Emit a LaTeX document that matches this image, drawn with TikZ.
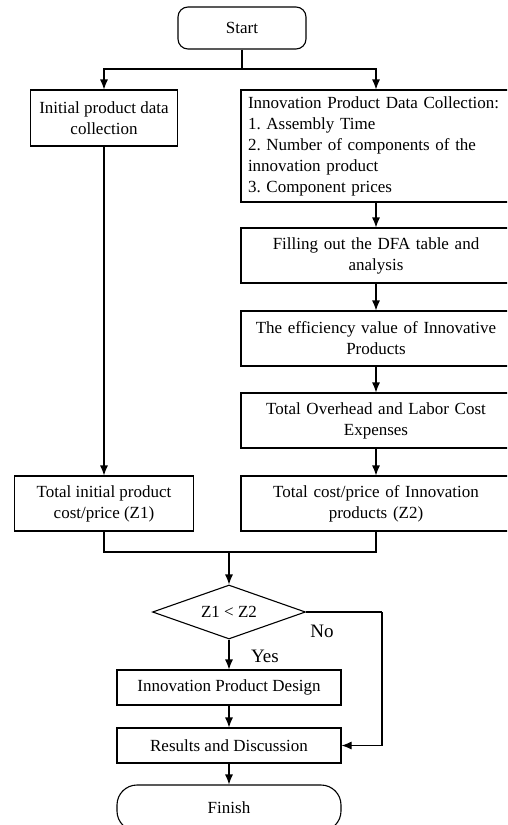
\documentclass[tikz,border=0pt]{standalone}
\usepackage{fontspec}
\setmainfont{Liberation Serif}
\usetikzlibrary{shapes.geometric,arrows.meta}
\frenchspacing
\tikzset{
  base/.style={draw, line width=1.1pt, font=\fontsize{17}{21}\selectfont, inner sep=6pt, align=center},
  procbox/.style={base, rectangle, minimum height=55pt},
  rbox/.style={procbox, minimum width=270pt, text width=256pt},
  termbox/.style={base, rectangle, rounded corners=#1},
  decbox/.style={base, diamond, aspect=2.83, minimum width=153pt, minimum height=54pt, inner sep=1pt},
  arr/.style={line width=1.1pt, -{Latex[length=10pt,width=8pt]}},
  ln/.style={line width=1.1pt},
  lbl/.style={font=\fontsize{19}{21}\selectfont, inner sep=0pt}
}
\begin{document}
\frenchspacing
\begin{tikzpicture}[x=1pt,y=-1pt]
\path[use as bounding box, clip] (0,0) rectangle (507,825);
% nodes
\node[termbox=10pt, minimum width=128pt, minimum height=42pt] (start) at (242,28) {Start};
\node[procbox, minimum width=147pt, minimum height=56pt] (init) at (104,118) {Initial product data\\collection};
\node[base, rectangle, minimum width=270pt, text width=256pt, minimum height=112pt, align=left] (innov) at (376,146)
  {Innovation Product Data Collection:\\1. Assembly Time\\2. Number of components of the\\innovation product\\3. Component prices};
\node[rbox] (fill) at (376,255.5) {Filling out the DFA table and\\analysis};
\node[rbox] (eff) at (376,338.5) {The efficiency value of Innovative\\Products};
\node[rbox] (over) at (376,420.5) {Total Overhead and Labor Cost\\Expenses};
\node[rbox] (zc2) at (376,503.5) {Total cost/price of Innovation\\products (Z2)};
\node[procbox, minimum width=179pt] (zc1) at (104,503.5) {Total initial product\\cost/price (Z1)};
\node[decbox] (dec) at (229,612) {Z1 < Z2};
\node[procbox, minimum width=224pt, minimum height=35pt] (design) at (229,687.5) {Innovation Product Design};
\node[procbox, minimum width=224pt, minimum height=35pt] (results) at (229,745.5) {Results and Discussion};
\node[termbox=20pt, minimum width=224pt, minimum height=46pt] (finish) at (229,808) {Finish};
% coordinates
\coordinate (split) at (242,69);
\coordinate (merge) at (229,552);
\coordinate (noturn) at (382,612);
% connectors
\draw[ln] (start.south) -- (split);
\draw[arr] (split) -| (init.north);
\draw[arr] (split) -| (innov.north);
\draw[arr] (init.south) -- (zc1.north);
\draw[arr] (innov) -- (fill);
\draw[arr] (fill) -- (eff);
\draw[arr] (eff) -- (over);
\draw[arr] (over) -- (zc2);
\draw[ln] (zc1.south) |- (merge) -| (zc2.south);
\draw[arr] (merge) -- (dec.north);
\draw[arr] (dec.south) -- (design.north);
\draw[ln] (dec.east) -- (noturn);
\draw[arr] (noturn) |- (results.east);
\draw[arr] (design) -- (results);
\draw[arr] (results) -- (finish);
% labels
\node[lbl] (nolbl) at (322,631) {No};
\node[lbl] (yeslbl) at (265,656) {Yes};
\end{tikzpicture}
\end{document}
